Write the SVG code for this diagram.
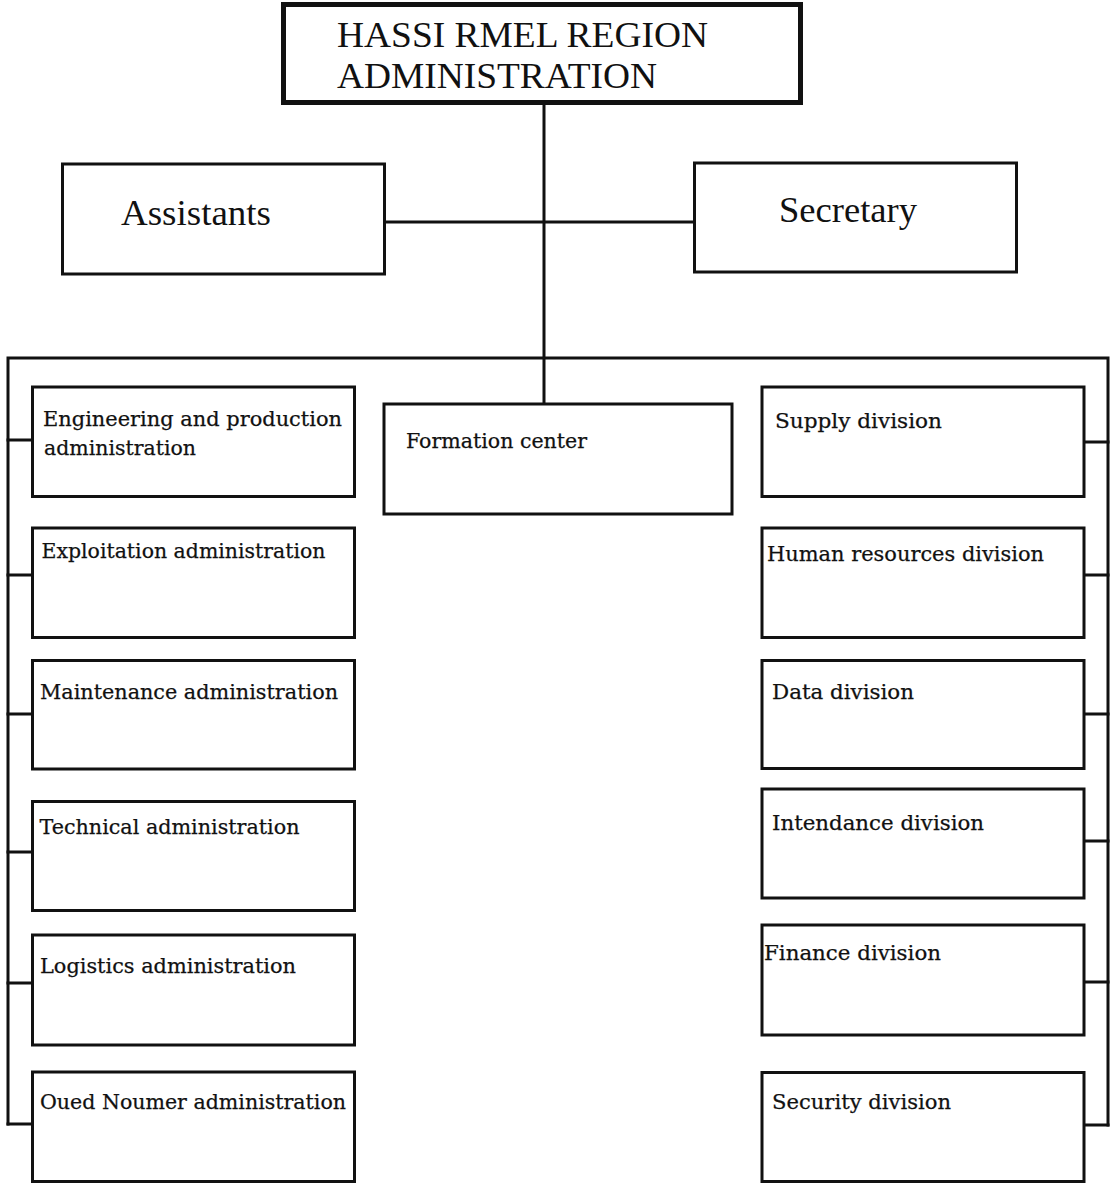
<svg xmlns="http://www.w3.org/2000/svg" width="1110" height="1184" viewBox="0 0 1110 1184">
<style>
.box{fill:#fff;stroke:#111;stroke-width:3}
.top{fill:#fff;stroke:#111;stroke-width:5}
.ln{fill:none;stroke:#111;stroke-width:3;stroke-linecap:square}
.big{font-family:"Liberation Serif","Times New Roman",serif;font-size:36px;fill:#111}
.sm{font-family:"DejaVu Serif","Liberation Serif",serif;font-size:21px;fill:#111;stroke:#111;stroke-width:0.25}
</style>
<rect width="1110" height="1184" fill="#fff"/>
<g id="connectors">
<path class="ln" d="M544 102 V404"/>
<path class="ln" d="M383 222 H694"/>
<path class="ln" d="M8 358 H1108 M8 358 V1124 M1108 358 V1125"/>
<path class="ln" d="M8 440 H32 M8 575 H32 M8 714 H32 M8 852 H32 M8 983 H32 M8 1124 H32"/>
<path class="ln" d="M1084 442 H1108 M1084 575 H1108 M1084 714 H1108 M1084 841 H1108 M1084 982 H1108 M1084 1125 H1108"/>
</g>
<g id="n-top">
<rect class="top" x="283.5" y="4.5" width="517" height="98"/>
<text class="big" x="337" y="47" textLength="371" lengthAdjust="spacingAndGlyphs">HASSI RMEL REGION</text>
<text class="big" x="337" y="88" textLength="320" lengthAdjust="spacingAndGlyphs">ADMINISTRATION</text>
</g>
<g id="n-assistants">
<rect class="box" x="62.5" y="164" width="322" height="110"/>
<text class="big" x="121" y="225" textLength="150" lengthAdjust="spacingAndGlyphs">Assistants</text>
</g>
<g id="n-secretary">
<rect class="box" x="694.5" y="163" width="322" height="109"/>
<text class="big" x="779" y="222" textLength="138" lengthAdjust="spacingAndGlyphs">Secretary</text>
</g>
<g id="n-formation">
<rect class="box" x="384" y="404" width="348" height="110"/>
<text class="sm" x="406" y="448" textLength="181" lengthAdjust="spacingAndGlyphs">Formation center</text>
</g>
<g id="n-engineering">
<rect class="box" x="32.5" y="387" width="322" height="109.5"/>
<text class="sm" x="43" y="426" textLength="299" lengthAdjust="spacingAndGlyphs">Engineering and production</text>
<text class="sm" x="44" y="455" textLength="152" lengthAdjust="spacingAndGlyphs">administration</text>
</g>
<g id="n-exploitation">
<rect class="box" x="32.5" y="528" width="322" height="109.5"/>
<text class="sm" x="41.5" y="558" textLength="284" lengthAdjust="spacingAndGlyphs">Exploitation administration</text>
</g>
<g id="n-maintenance">
<rect class="box" x="32.5" y="660.5" width="322" height="108.5"/>
<text class="sm" x="40" y="699" textLength="298" lengthAdjust="spacingAndGlyphs">Maintenance administration</text>
</g>
<g id="n-technical">
<rect class="box" x="32.5" y="801.5" width="322" height="109"/>
<text class="sm" x="39.5" y="834" textLength="260" lengthAdjust="spacingAndGlyphs">Technical administration</text>
</g>
<g id="n-logistics">
<rect class="box" x="32.5" y="935" width="322" height="110"/>
<text class="sm" x="40" y="973" textLength="256" lengthAdjust="spacingAndGlyphs">Logistics administration</text>
</g>
<g id="n-oued">
<rect class="box" x="32.5" y="1072" width="322" height="109.5"/>
<text class="sm" x="40" y="1109" textLength="306" lengthAdjust="spacingAndGlyphs">Oued Noumer administration</text>
</g>
<g id="n-supply">
<rect class="box" x="762" y="387" width="322" height="109.5"/>
<text class="sm" x="775" y="428" textLength="167" lengthAdjust="spacingAndGlyphs">Supply division</text>
</g>
<g id="n-hr">
<rect class="box" x="762" y="528" width="322" height="109.5"/>
<text class="sm" x="767" y="561" textLength="277" lengthAdjust="spacingAndGlyphs">Human resources division</text>
</g>
<g id="n-data">
<rect class="box" x="762" y="660.5" width="322" height="108"/>
<text class="sm" x="772" y="699" textLength="142" lengthAdjust="spacingAndGlyphs">Data division</text>
</g>
<g id="n-intendance">
<rect class="box" x="762" y="789" width="322" height="109"/>
<text class="sm" x="772" y="830" textLength="212" lengthAdjust="spacingAndGlyphs">Intendance division</text>
</g>
<g id="n-finance">
<rect class="box" x="762" y="925" width="322" height="110"/>
<text class="sm" x="764" y="960" textLength="177" lengthAdjust="spacingAndGlyphs">Finance division</text>
</g>
<g id="n-security">
<rect class="box" x="762" y="1072.5" width="322" height="109"/>
<text class="sm" x="772" y="1109" textLength="179" lengthAdjust="spacingAndGlyphs">Security division</text>
</g>
</svg>
